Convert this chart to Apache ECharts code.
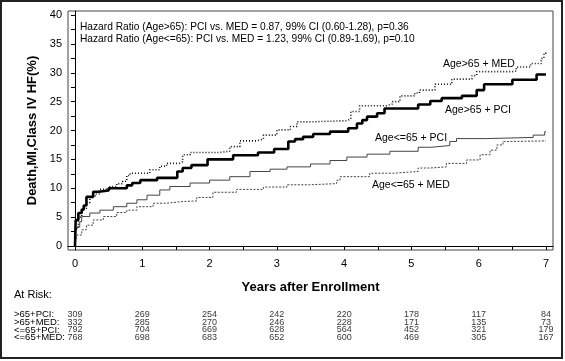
<!DOCTYPE html>
<html>
<head>
<meta charset="utf-8">
<script src="https://cdn.jsdelivr.net/npm/echarts@6/dist/echarts.min.js"></script>
<style>
html,body{margin:0;padding:0;background:#fff;}
#chart{width:565px;height:361px;}
</style>
</head>
<body>
<div id="chart"></div>
<script>
// ---- Data ----
const xTickValues = [0, 1, 2, 3, 4, 5, 6, 7];
const xMinorTicks = [0, 0.5, 1, 1.5, 2, 2.5, 3, 3.5, 4, 4.5, 5, 5.5, 6, 6.5, 7];
const yTickValues = [0, 5, 10, 15, 20, 25, 30, 35, 40];
const yMinorTicks = [0, 2.5, 5, 7.5, 10, 12.5, 15, 17.5, 20, 22.5, 25, 27.5, 30, 32.5, 35, 37.5, 40];

const seriesNames = ['Age>65 + PCI', 'Age>65 + MED', 'Age<=65 + PCI', 'Age<=65 + MED'];

const gt65PCI = [[0,0],[0.01,4.5],[0.05,5.7],[0.1,6.3],[0.13,7.0],[0.17,8.5],[0.27,9.4],[0.35,9.6],[0.5,10.0],[0.77,10.5],[0.85,10.9],[0.97,11.4],[1.22,11.8],[1.52,12.9],[1.6,13.5],[1.73,14.0],[1.97,15.0],[2.35,15.7],[2.72,16.2],[2.96,16.8],[3.17,18.1],[3.27,18.5],[3.39,18.9],[3.54,19.4],[3.79,19.8],[4.06,20.4],[4.19,21.2],[4.27,21.8],[4.34,22.4],[4.49,23.0],[4.6,23.8],[5.1,24.5],[5.28,25.1],[5.45,25.6],[5.75,26.0],[5.97,27.0],[6.08,28.0],[6.5,28.8],[6.86,29.7],[7.0,29.7]];

const gt65MED = [[0,0],[0.01,3.0],[0.05,5.0],[0.1,6.5],[0.17,7.5],[0.22,8.5],[0.3,9.0],[0.37,9.8],[0.52,10.3],[0.62,10.8],[0.71,11.2],[0.77,12.2],[0.82,12.6],[1.11,13.2],[1.26,13.8],[1.36,14.3],[1.55,14.6],[1.6,15.8],[1.71,16.2],[2.15,16.4],[2.3,17.2],[2.45,18.2],[2.7,18.5],[2.8,19.2],[3.0,20.1],[3.2,20.7],[3.3,21.5],[3.5,21.7],[4.04,22.0],[4.1,23.3],[4.23,24.3],[4.63,24.6],[4.72,25.0],[4.83,26.0],[5.05,26.5],[5.12,27.0],[5.35,28.0],[5.6,28.9],[5.9,29.5],[5.97,30.2],[6.5,30.3],[6.56,31.0],[6.77,31.6],[6.93,32.5],[6.97,33.4],[7.0,33.6]];

const le65PCI = [[0,0],[0.01,2.5],[0.03,3.3],[0.07,4.2],[0.1,5.1],[0.22,5.7],[0.37,6.2],[0.57,6.8],[0.77,7.4],[0.92,8.0],[1.07,8.8],[1.26,9.7],[1.41,10.3],[1.71,10.9],[2.0,11.4],[2.3,12.0],[2.6,12.9],[2.9,13.3],[3.15,13.7],[3.5,14.2],[3.79,14.8],[4.04,15.4],[4.34,15.9],[4.68,16.4],[5.1,17.1],[5.3,17.4],[5.57,18.1],[5.67,18.6],[6.12,18.8],[6.81,19.2],[6.98,19.8],[7.0,19.8]];

const le65MED = [[0,0],[0.01,1.0],[0.03,1.9],[0.1,2.8],[0.17,3.6],[0.27,4.5],[0.42,5.1],[0.62,5.8],[0.77,6.2],[0.92,6.8],[1.16,7.4],[1.36,7.7],[1.6,7.8],[1.81,8.4],[2.05,9.3],[2.4,9.8],[2.8,10.2],[3.15,10.6],[3.5,10.8],[3.89,11.4],[3.94,12.0],[4.38,12.6],[4.73,12.9],[5.1,13.5],[5.28,13.7],[5.52,14.3],[5.82,14.9],[6.02,15.8],[6.17,16.6],[6.27,17.5],[6.36,18.1],[6.46,18.2],[7.0,18.2]];

const riskTimes = [0, 1, 2, 3, 4, 5, 6, 7];
const riskGroups = ['>65+PCI:', '>65+MED:', '<=65+PCI:', '<=65+MED:'];
const riskGt65PCI = [309, 269, 254, 242, 220, 178, 117, 84];
const riskGt65MED = [332, 285, 270, 246, 228, 171, 135, 73];
const riskLe65PCI = [792, 704, 669, 628, 564, 452, 321, 179];
const riskLe65MED = [768, 698, 683, 652, 600, 469, 305, 167];

const hazardLines = [
  'Hazard Ratio (Age>65): PCI vs. MED = 0.87, 99% CI (0.60-1.28), p=0.36',
  'Hazard Ratio (Age<=65): PCI vs. MED = 1.23, 99% CI (0.89-1.69), p=0.10'
];
const xTitle = 'Years after Enrollment';
const yTitle = 'Death,MI,Class IV HF(%)';
const atRiskTitle = 'At Risk:';

// ---- Chart ----
const FONT = "'Liberation Sans', Arial, sans-serif";
const chart = echarts.init(document.getElementById('chart'), null, {renderer: 'canvas'});

const riskRows = [riskGt65PCI, riskGt65MED, riskLe65PCI, riskLe65MED];
const riskData = [];
riskRows.forEach((row, ri) => {
  row.forEach((v, ti) => riskData.push([riskTimes[ti], riskGroups[ri], v]));
});

const lineStyles = [
  {color: '#000', width: 2.6, type: 'solid'},
  {color: '#111', width: 1.6, type: [1, 2]},
  {color: '#444', width: 1, type: 'solid'},
  {color: '#444', width: 1, type: [2, 1.5]}
];
const curveData = [gt65PCI, gt65MED, le65PCI, le65MED];

const option = {
  animation: false,
  backgroundColor: '#fff',
  textStyle: {fontFamily: FONT},
  grid: [
    {left: 68, right: 12, top: 11, bottom: 111, show: true, borderColor: '#444', borderWidth: 1},
    {left: 68, right: 12, top: 311, height: 30.4, show: false}
  ],
  xAxis: [
    {
      type: 'value', gridIndex: 0, min: -0.104, max: 7.104,
      axisLine: {show: true, lineStyle: {color: '#000', width: 1}},
      axisTick: {show: true, customValues: xMinorTicks, length: 4, lineStyle: {color: '#000'}},
      axisLabel: {show: true, customValues: xTickValues, fontSize: 11, color: '#000', margin: 8, fontFamily: FONT},
      splitLine: {show: false},
      name: xTitle, nameLocation: 'middle', nameGap: 31,
      nameTextStyle: {fontSize: 13, fontWeight: 'bold', color: '#000', fontFamily: FONT}
    },
    {
      type: 'value', gridIndex: 1, min: -0.104, max: 7.104, show: false
    }
  ],
  yAxis: [
    {
      type: 'value', gridIndex: 0, min: -0.7, max: 40.7,
      axisLine: {show: true, lineStyle: {color: '#000', width: 1}},
      axisTick: {show: true, customValues: yMinorTicks, length: 4, lineStyle: {color: '#000'}},
      axisLabel: {show: true, customValues: yTickValues, fontSize: 11, color: '#000', margin: 6, fontFamily: FONT},
      splitLine: {show: false},
      name: yTitle, nameLocation: 'middle', nameGap: 21, nameRotate: 90,
      nameTextStyle: {fontSize: 13, fontWeight: 'bold', color: '#000', fontFamily: FONT}
    },
    {
      type: 'category', gridIndex: 1, data: riskGroups, inverse: true,
      axisLine: {show: false}, axisTick: {show: false}, splitLine: {show: false},
      axisLabel: {show: true, align: 'left', margin: 54, fontSize: 9.5, lineHeight: 8, color: '#000', fontFamily: FONT, interval: 0}
    }
  ],
  series: curveData.map((d, i) => ({
    name: seriesNames[i],
    type: 'line', xAxisIndex: 0, yAxisIndex: 0,
    step: 'end', symbol: 'none', data: d,
    lineStyle: lineStyles[i], z: 10 - i
  })).concat([{
    type: 'scatter', xAxisIndex: 1, yAxisIndex: 1,
    symbolSize: 1, itemStyle: {color: 'rgba(0,0,0,0)'},
    data: riskData,
    label: {
      show: true, position: 'inside', fontSize: 9, lineHeight: 8, color: '#000', fontFamily: FONT,
      formatter: p => String(p.value[2])
    }
  }]),
  graphic: [
    {type: 'rect', shape: {x: 1, y: 1, width: 561, height: 357}, style: {fill: 'none', stroke: '#222', lineWidth: 2}, silent: true},
    {type: 'text', x: 80, y: 27, style: {text: hazardLines[0], font: '10.2px ' + FONT, fill: '#000', textVerticalAlign: 'middle'}},
    {type: 'text', x: 80, y: 39, style: {text: hazardLines[1], font: '10.2px ' + FONT, fill: '#000', textVerticalAlign: 'middle'}},
    {type: 'text', x: 443, y: 64, style: {text: seriesNames[1], font: '10.5px ' + FONT, fill: '#000', textVerticalAlign: 'middle'}},
    {type: 'text', x: 445, y: 110, style: {text: seriesNames[0], font: '10.5px ' + FONT, fill: '#000', textVerticalAlign: 'middle'}},
    {type: 'text', x: 375, y: 138, style: {text: seriesNames[2], font: '10.5px ' + FONT, fill: '#000', textVerticalAlign: 'middle'}},
    {type: 'text', x: 372, y: 185, style: {text: seriesNames[3], font: '10.5px ' + FONT, fill: '#000', textVerticalAlign: 'middle'}},
    {type: 'text', x: 14, y: 295, style: {text: atRiskTitle, font: '11px ' + FONT, fill: '#000', textVerticalAlign: 'middle'}}
  ]
};
chart.setOption(option);
</script>
</body>
</html>
